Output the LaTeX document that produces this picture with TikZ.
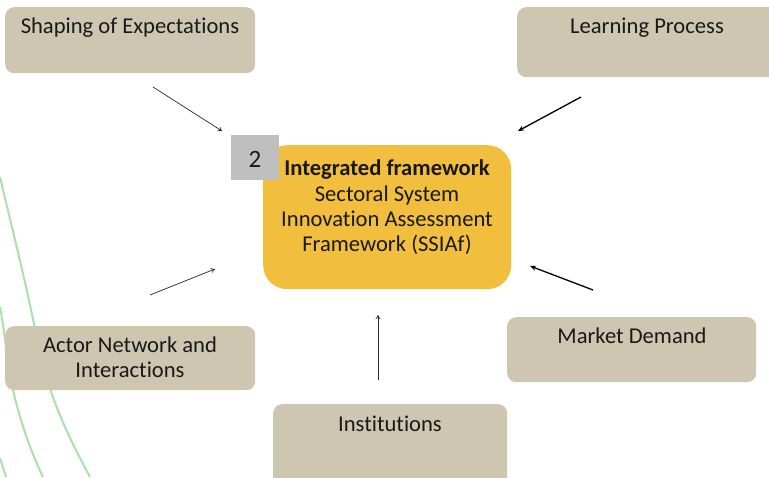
\documentclass[tikz,border=0pt]{standalone}
\usepackage{fontspec}
\setmainfont{Carlito}[RawFeature={-liga}]
\usetikzlibrary{arrows.meta}
\definecolor{beige}{HTML}{CFC6B1}
\definecolor{gold}{HTML}{F1BE3E}
\definecolor{greybox}{HTML}{BFBFBF}
\definecolor{lightgreen}{HTML}{A8E2A8}
\tikzset{
  box/.style={fill=beige, draw=none, rounded corners=9pt, anchor=north west, inner sep=0pt},
  lbl/.style={anchor=base, inner sep=0pt, font=\fontsize{22.6}{25}\selectfont, align=center, text=black!90},
  thinarrow/.style={draw=black!85, line width=0.7pt, -{To[length=4pt,width=5pt]}},
  thickarrow/.style={draw=black, line width=1.3pt, -{Stealth[length=6pt,width=5pt]}},
  greenline/.style={draw=lightgreen, line width=2pt}
}
\begin{document}
\begin{tikzpicture}[x=1pt, y=-1pt]
\useasboundingbox (0,0) rectangle (769,477);
\clip (0,0) rectangle (769,477);
% green background curves
\draw[greenline] (0,177) .. controls (15,240) and (30,300) .. (38,345) .. controls (50,400) and (70,440) .. (90,477);
\draw[greenline] (0,307) .. controls (6,340) and (8,370) .. (13,390) .. controls (20,420) and (30,450) .. (43,477);
\draw[greenline] (0,458) -- (6,477);
% boxes
\node[box, minimum width=250pt, minimum height=66pt] (exp) at (5,7) {};
\node[box, minimum width=262pt, minimum height=70pt] (learn) at (517,7) {};
\node[box, minimum width=250pt, minimum height=64pt] (actor) at (5,326) {};
\node[box, minimum width=234pt, minimum height=90pt] (inst) at (273,404) {};
\node[box, minimum width=249pt, minimum height=65pt] (market) at (507,317) {};
\node[box, fill=gold, rounded corners=24pt, minimum width=248pt, minimum height=144pt] (core) at (263,145) {};
\node[fill=greybox, anchor=north west, minimum width=48pt, minimum height=45pt, inner sep=0pt] (num) at (231,135) {};
% labels
\node[lbl] (expT) at (130,33) {Shaping of Expectations};
\node[lbl] (learnT) at (647,33) {Learning Process};
\node[lbl] (actorT) at (130,352) {Actor Network and};
\node[lbl] (actorT2) at (130,377) {Interactions};
\node[lbl] (instT) at (390,431) {Institutions};
\node[lbl] (marketT) at (632,343) {Market Demand};
\node[lbl, font=\fontsize{25}{25}\selectfont] (numT) at (255,167) {2};
\node[lbl, font=\fontsize{22.6}{25}\selectfont\bfseries] (coreT1) at (387,175) {Integrated framework};
\node[lbl] (coreT2) at (387,201) {Sectoral System};
\node[lbl] (coreT3) at (387,226) {Innovation Assessment};
\node[lbl] (coreT4) at (387,251) {Framework (SSIAf)};
% arrow endpoints
\coordinate (a1s) at (153,87);  \coordinate (a1e) at (222,131);
\coordinate (a2s) at (581,97);  \coordinate (a2e) at (518,131);
\coordinate (a3s) at (150,295); \coordinate (a3e) at (215,269);
\coordinate (a4s) at (378,380); \coordinate (a4e) at (378,315);
\coordinate (a5s) at (593,290); \coordinate (a5e) at (530,266);
\draw[thinarrow] (a1s) -- (a1e);
\draw[thickarrow] (a2s) -- (a2e);
\draw[thinarrow] (a3s) -- (a3e);
\draw[thinarrow] (a4s) -- (a4e);
\draw[thickarrow] (a5s) -- (a5e);
\end{tikzpicture}
\end{document}
